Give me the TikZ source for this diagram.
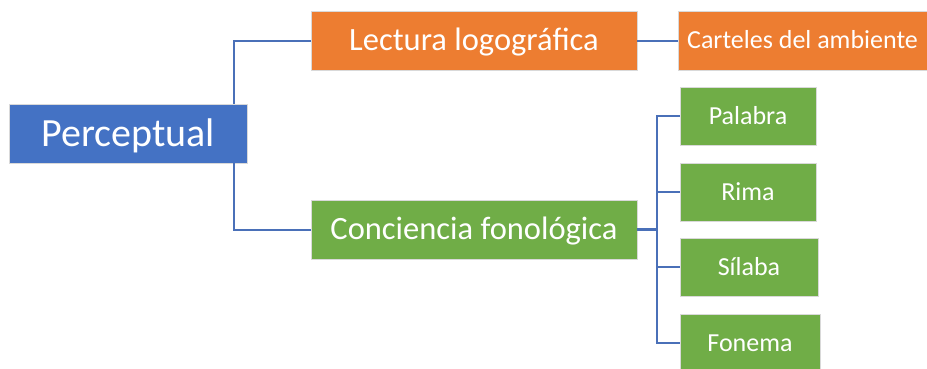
\documentclass[tikz,border=0pt]{standalone}
\usepackage{fontspec}
\setmainfont{Carlito}
\usepackage{tikz}
\usetikzlibrary{positioning, calc}
\definecolor{rootcolor}{HTML}{4472C4}
\definecolor{readcolor}{HTML}{ED7D31}
\definecolor{soundcolor}{HTML}{70AD47}
\definecolor{linkcolor}{HTML}{4A70B8}

\begin{document}
\begin{tikzpicture}[
    x=1pt, y=-1pt,
    box/.style={draw=white!85!black, line width=0.6pt, text=white, inner sep=0pt, minimum height=59pt, text depth=0pt},
    bigbox/.style={box, font=\fontsize{32.5}{38}\selectfont, text height=20.8pt},
    smallbox/.style={box, minimum height=58pt, font=\fontsize{26}{31}\selectfont, text height=16.6pt},
    link/.style={draw=linkcolor, line width=2pt}
]
    \useasboundingbox (0,0) rectangle (927,368);

    % Nodes
    \node[box, fill=rootcolor, minimum width=238pt, font=\fontsize{40}{48}\selectfont, text height=25.6pt] (perc) at (128,133.5) {Perceptual};
    \node[bigbox, fill=readcolor, minimum width=326pt] (lect) at (474,40.5) {Lectura logográfica};
    \node[bigbox, fill=soundcolor, minimum width=326pt] (conc) at (474,229.5) {Conciencia fonológica};
    \node[smallbox, fill=readcolor, minimum width=249pt, minimum height=59pt] (cart) at (802.5,40.5) {Carteles del ambiente};

    \node[smallbox, fill=soundcolor, minimum width=136pt] (pal) at (748,116) {Palabra};
    \node[smallbox, fill=soundcolor, minimum width=136pt] (rima) at (748,192) {Rima};
    \node[smallbox, fill=soundcolor, minimum width=138pt] (sil) at (749,267) {Sílaba};
    \node[smallbox, fill=soundcolor, minimum width=140pt] (fon) at (750,343) {Fonema};

    % Connections
    \draw[link] ([xshift=-13pt]perc.north east) |- (lect.west);
    \draw[link] ([xshift=-13pt]perc.south east) |- (conc.west);
    \draw[link] (lect.east) -- (cart.west);

    \draw[link, line width=3pt] (conc.east) -- ++(20,0) coordinate (bus);
    \draw[link] (bus) |- (pal.west);
    \draw[link] (bus) |- (rima.west);
    \draw[link] (bus) |- (sil.west);
    \draw[link] (bus) |- (fon.west);
\end{tikzpicture}
\end{document}
